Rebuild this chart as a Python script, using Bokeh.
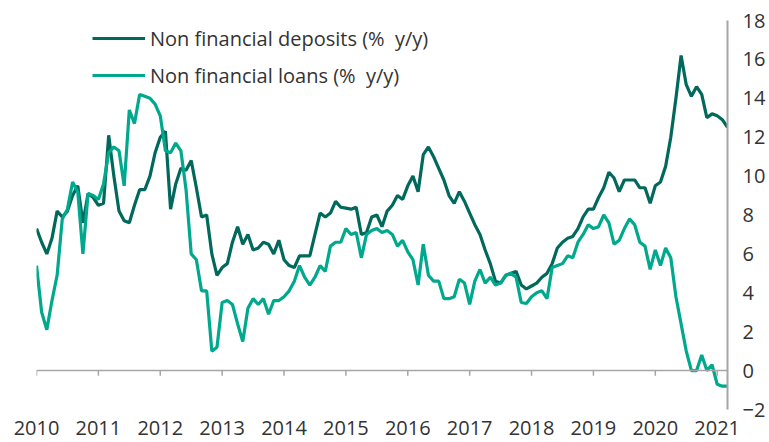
from bokeh.plotting import figure
from bokeh.models import Span, Legend, LegendItem, FixedTicker
from bokeh.embed import file_html
from bokeh.resources import INLINE

START_YEAR = 2010
deposits = [7.3, 6.6, 6.0, 6.8, 8.2, 7.9, 8.2, 9.0, 9.5, 7.6, 9.1, 8.9,
            8.5, 8.6, 12.1, 10.0, 8.2, 7.7, 7.6, 8.5, 9.3, 9.3, 10.0, 11.2,
            12.0, 12.3, 8.3, 9.6, 10.4, 10.3, 10.8, 9.4, 7.9, 8.0, 6.0, 4.9,
            5.3, 5.5, 6.6, 7.4, 6.5, 7.0, 6.2, 6.3, 6.6, 6.5, 6.0, 6.7,
            5.7, 5.4, 5.3, 5.9, 5.9, 5.9, 7.0, 8.1, 7.9, 8.1, 8.7, 8.4,
            8.35, 8.3, 8.4, 7.0, 7.1, 7.9, 8.0, 7.4, 8.2, 8.5, 9.0, 8.8,
            9.5, 10.0, 9.2, 11.1, 11.5, 11.0, 10.4, 9.8, 9.0, 8.6, 9.2, 8.7,
            8.1, 7.5, 7.0, 6.2, 5.5, 4.6, 4.5, 4.9, 5.0, 5.1, 4.4, 4.2,
            4.35, 4.5, 4.8, 5.0, 5.5, 6.3, 6.6, 6.8, 6.9, 7.3, 7.9, 8.3,
            8.3, 8.9, 9.4, 10.2, 9.9, 9.2, 9.8, 9.8, 9.8, 9.4, 9.4, 8.6,
            9.5, 9.7, 10.5, 12.0, 14.0, 16.2, 14.7, 14.1, 14.6, 14.2, 13.0, 13.2,
            13.1, 12.9, 12.5]
loans = [5.4, 3.0, 2.1, 3.6, 4.9, 7.8, 8.3, 9.7, 9.2, 6.0, 9.1, 9.0,
         8.8, 9.6, 11.2, 11.5, 11.3, 9.5, 13.4, 12.7, 14.2, 14.1, 14.0, 13.7,
         13.1, 11.3, 11.2, 11.7, 11.3, 9.3, 6.0, 5.7, 4.1, 4.1, 1.0, 1.2,
         3.5, 3.6, 3.4, 2.4, 1.5, 3.2, 3.7, 3.4, 3.7, 2.9, 3.6, 3.6,
         3.8, 4.1, 4.6, 5.4, 4.8, 4.4, 4.8, 5.4, 5.1, 6.4, 6.6, 6.6,
         7.3, 7.0, 7.1, 5.8, 7.0, 7.2, 7.3, 7.1, 7.2, 7.0, 6.4, 6.7,
         6.1, 5.7, 4.4, 6.5, 4.9, 4.6, 4.6, 3.7, 3.7, 3.8, 4.7, 4.5,
         3.4, 4.6, 5.2, 4.5, 4.8, 4.4, 4.5, 4.9, 5.0, 4.8, 3.5, 3.45,
         3.8, 4.0, 4.1, 3.7, 5.3, 5.4, 5.5, 5.9, 5.8, 6.6, 7.0, 7.5,
         7.3, 7.4, 8.0, 7.6, 6.5, 6.7, 7.3, 7.8, 7.5, 6.6, 6.4, 5.2,
         6.2, 5.4, 6.3, 5.8, 3.8, 2.4, 1.0, 0.0, 0.0, 0.8, 0.0, 0.3,
         -0.7, -0.8, -0.8]
years = list(range(2010, 2022))
y_ticks = [-2, 0, 2, 4, 6, 8, 10, 12, 14, 16, 18]

x = [START_YEAR + i / 12 for i in range(len(deposits))]

FONT = "Open Sans"
TXT = "#333333"
GRID = "#a6a6a6"
C_DEP = "#00695c"
C_LOAN = "#00a88d"

p = figure(width=769, height=442, x_range=(2010, x[-1]), y_range=(-2, 18),
           output_backend="svg", toolbar_location=None, y_axis_location="right",
           min_border_left=36, min_border_right=42, min_border_top=20, min_border_bottom=33)
p.outline_line_color = None
p.grid.visible = False
p.background_fill_color = "white"

r1 = p.line(x, deposits, line_color=C_DEP, line_width=3.2)
r2 = p.line(x, loans, line_color=C_LOAN, line_width=3.2)

# zero line with downward ticks
p.add_layout(Span(location=0, dimension="width", line_color=GRID, line_width=1.5))
p.segment(x0=years, y0=[0] * len(years), x1=years, y1=[-0.27] * len(years),
          line_color=GRID, line_width=1.5)

xa = p.xaxis[0]
xa.ticker = FixedTicker(ticks=years)
xa.axis_line_color = None
xa.major_tick_line_color = None
xa.minor_tick_line_color = None
xa.major_label_standoff = 5
xa.major_label_text_font = FONT
xa.major_label_text_font_size = "20px"
xa.major_label_text_color = TXT

ya = p.yaxis[0]
ya.ticker = FixedTicker(ticks=y_ticks)
ya.axis_line_color = GRID
ya.axis_line_width = 2
ya.major_tick_line_color = None
ya.minor_tick_line_color = None
ya.major_label_standoff = 9
ya.major_label_text_font = FONT
ya.major_label_text_font_size = "20px"
ya.major_label_text_color = TXT

legend = Legend(items=[LegendItem(label="Non financial deposits (%  y/y)", renderers=[r1]),
                       LegendItem(label="Non financial loans (%  y/y)", renderers=[r2])],
                location=(56, 319), orientation="vertical",
                glyph_width=53, glyph_height=30, label_height=30, spacing=7,
                padding=0, margin=0, label_standoff=5,
                label_text_font=FONT, label_text_font_size="20px", label_text_color=TXT,
                border_line_color=None, background_fill_alpha=0)
p.add_layout(legend)

open("out.html", "w").write(file_html(p, INLINE))
